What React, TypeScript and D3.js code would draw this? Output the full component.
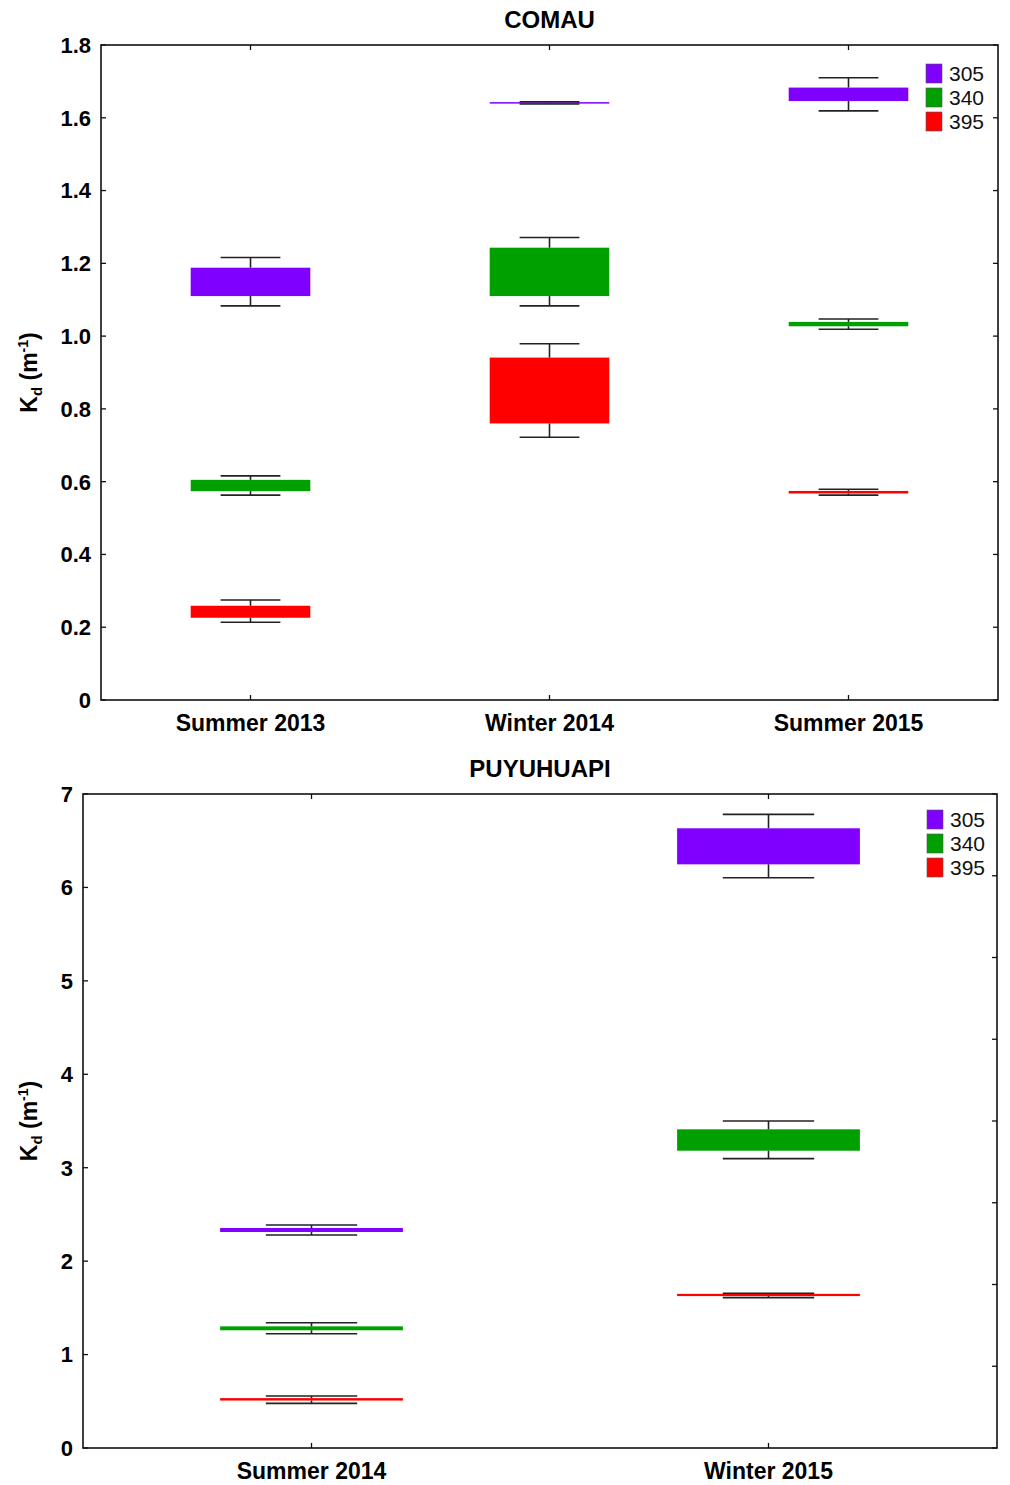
import React from "react";
import * as d3 from "d3";

const seriesNames = ["305", "340", "395"];
const seriesColors = ["#7F00FF", "#00A000", "#FF0000"];

const comauCategories = ["Summer 2013", "Winter 2014", "Summer 2015"];
// [min, q1, q3, max] per category
const comau305 = [
  [1.083, 1.11, 1.188, 1.216],
  [1.638, 1.639, 1.643, 1.644],
  [1.619, 1.646, 1.683, 1.71],
];
const comau340 = [
  [0.563, 0.574, 0.605, 0.616],
  [1.083, 1.11, 1.243, 1.271],
  [1.019, 1.027, 1.039, 1.047],
];
const comau395 = [
  [0.2135, 0.226, 0.259, 0.275],
  [0.722, 0.76, 0.941, 0.979],
  [0.563, 0.5675, 0.5745, 0.579],
];
const comauTicks = [0, 0.2, 0.4, 0.6, 0.8, 1.0, 1.2, 1.4, 1.6, 1.8];
const comauTickLabels = ["0", "0.2", "0.4", "0.6", "0.8", "1.0", "1.2", "1.4", "1.6", "1.8"];

const puyuCategories = ["Summer 2014", "Winter 2015"];
const puyu305 = [
  [2.28, 2.312, 2.355, 2.387],
  [6.104, 6.247, 6.633, 6.782],
];
const puyu340 = [
  [1.223, 1.26, 1.302, 1.341],
  [3.097, 3.182, 3.411, 3.5],
];
const puyu395 = [
  [0.478, 0.508, 0.534, 0.557],
  [1.609, 1.626, 1.65, 1.656],
];
const puyuTicks = [0, 1, 2, 3, 4, 5, 6, 7];
const puyuTickLabels = ["0", "1", "2", "3", "4", "5", "6", "7"];
const puyuRightTicks = [0, 0.875, 1.75, 2.625, 3.5, 4.375, 5.25, 6.125, 7];

const FONT = "'Liberation Sans', Arial, Helvetica, sans-serif";

type PanelProps = {
  title: string;
  categories: string[];
  series: number[][][];
  yMax: number;
  ticks: number[];
  tickLabels: string[];
  rightTicks: number[];
  left: number;
  right: number;
  top: number;
  bottom: number;
  legendDx: number;
  legendDy: number;
};

function Panel(p: PanelProps) {
  const x = d3.scaleBand<string>().domain(p.categories).range([p.left, p.right]).padding(0);
  const y = d3.scaleLinear().domain([0, p.yMax]).range([p.bottom, p.top]);
  const bw = x.bandwidth() * 0.4;
  const cw = bw / 2;
  const midY = (p.top + p.bottom) / 2;
  const midX = (p.left + p.right) / 2;
  const tk = 5;
  return (
    <g>
      <text x={midX} y={p.top - 17} textAnchor="middle" fontFamily={FONT} fontWeight="bold" fontSize={24}>
        {p.title}
      </text>
      {p.series.map((s, si) =>
        s.map((d, ci) => {
          const cx = (x(p.categories[ci]) as number) + x.bandwidth() / 2;
          const [mn, q1, q3, mx] = d;
          return (
            <g key={`${si}-${ci}`}>
              <rect
                x={cx - bw / 2}
                y={y(q3)}
                width={bw}
                height={Math.max(1.5, y(q1) - y(q3))}
                fill={seriesColors[si]}
              />
              <g stroke="#222" strokeWidth={1.6} fill="none">
                <line x1={cx} x2={cx} y1={y(q3)} y2={y(mx)} />
                <line x1={cx} x2={cx} y1={y(q1)} y2={y(mn)} />
                <line x1={cx - cw / 2} x2={cx + cw / 2} y1={y(mx)} y2={y(mx)} />
                <line x1={cx - cw / 2} x2={cx + cw / 2} y1={y(mn)} y2={y(mn)} />
              </g>
            </g>
          );
        })
      )}
      <rect x={p.left} y={p.top} width={p.right - p.left} height={p.bottom - p.top} fill="none" stroke="#111" strokeWidth={1.6} />
      {p.ticks.map((t, i) => (
        <g key={"lt" + i}>
          <line x1={p.left} x2={p.left + tk} y1={y(t)} y2={y(t)} stroke="#111" strokeWidth={1.3} />
          <text x={p.left - 10} y={y(t)} dy="0.36em" textAnchor="end" fontFamily={FONT} fontWeight="bold" fontSize={22}>
            {p.tickLabels[i]}
          </text>
        </g>
      ))}
      {p.rightTicks.map((t, i) => (
        <line key={"rt" + i} x1={p.right} x2={p.right - tk} y1={y(t)} y2={y(t)} stroke="#111" strokeWidth={1.3} />
      ))}
      {p.categories.map((c) => {
        const cx = (x(c) as number) + x.bandwidth() / 2;
        return (
          <g key={"c" + c}>
            <line x1={cx} x2={cx} y1={p.bottom} y2={p.bottom - tk} stroke="#111" strokeWidth={1.3} />
            <line x1={cx} x2={cx} y1={p.top} y2={p.top + tk} stroke="#111" strokeWidth={1.3} />
            <text x={cx} y={p.bottom + 31} textAnchor="middle" fontFamily={FONT} fontWeight="bold" fontSize={23}>
              {c}
            </text>
          </g>
        );
      })}
      <text transform={`translate(37,${midY}) rotate(-90)`} textAnchor="middle" fontFamily={FONT} fontWeight="bold" fontSize={23}>
        K<tspan fontSize={15} dy={5}>d</tspan>
        <tspan dy={-5}> (m</tspan>
        <tspan fontSize={14} dy={-9}>-1</tspan>
        <tspan dy={9}>)</tspan>
      </text>
      {seriesNames.map((n, i) => (
        <g key={"lg" + n}>
          <rect
            x={p.right - 72 + p.legendDx}
            y={p.top + 19 + p.legendDy + i * 24}
            width={16}
            height={19}
            fill={seriesColors[i]}
            stroke="#555"
            strokeWidth={0.6}
          />
          <text
            x={p.right - 49 + p.legendDx}
            y={p.top + 36 + p.legendDy + i * 24}
            fontFamily={FONT}
            fontSize={21}
            fill="#111"
          >
            {n}
          </text>
        </g>
      ))}
    </g>
  );
}

export default function App() {
  return (
    <svg width={1010} height={1485} style={{ position: "absolute", left: 0, top: 0, background: "#fff" }}>
      <rect x={0} y={0} width={1010} height={1485} fill="#fff" />
      <Panel
        title="COMAU"
        categories={comauCategories}
        series={[comau305, comau340, comau395]}
        yMax={1.8}
        ticks={comauTicks}
        tickLabels={comauTickLabels}
        rightTicks={comauTicks}
        left={101}
        right={998}
        top={45}
        bottom={700}
        legendDx={0}
        legendDy={0}
      />
      <Panel
        title="PUYUHUAPI"
        categories={puyuCategories}
        series={[puyu305, puyu340, puyu395]}
        yMax={7}
        ticks={puyuTicks}
        tickLabels={puyuTickLabels}
        rightTicks={puyuRightTicks}
        left={83}
        right={997}
        top={794}
        bottom={1448}
        legendDx={2}
        legendDy={-3}
      />
    </svg>
  );
}
